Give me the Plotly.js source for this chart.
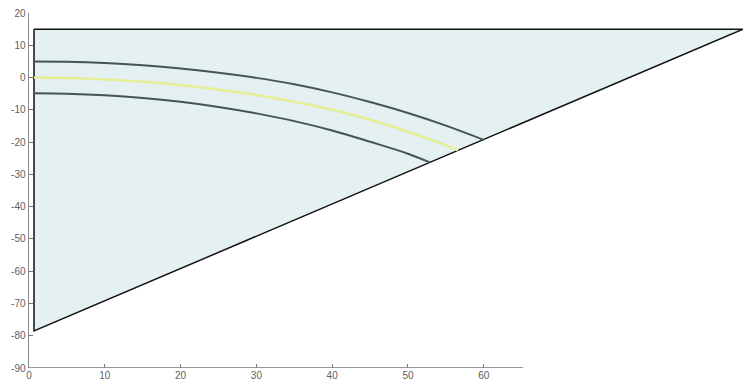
<!DOCTYPE html>
<html>
<head>
<meta charset="utf-8">
<script src="https://cdn.plot.ly/plotly-3.0.1.min.js"></script>
<style>html,body{margin:0;padding:0;background:#fff;}#chart{width:743px;height:385px;}</style>
</head>
<body>
<div id="chart"></div>
<script>
// Region boundary (triangle)
var regionX = [0.66, 94.2, 0.66, 0.66];
var regionY = [15, 15, -78.5, 15];

// Upper dark curve
var upperX = [0.66, 5, 10, 15, 20, 25, 30, 35, 40, 45, 50, 55, 60];
var upperY = [5.0, 4.9, 4.5, 3.8, 2.8, 1.5, -0.1, -2.1, -4.6, -7.6, -11.0, -14.9, -19.3];

// Middle (yellow) curve
var middleX = [0.66, 5, 10, 15, 20, 25, 30, 35, 40, 45, 50, 55, 56.6];
var middleY = [0.0, -0.15, -0.6, -1.3, -2.3, -3.7, -5.4, -7.5, -10.0, -13.1, -16.8, -21.0, -22.6];

// Lower dark curve
var lowerX = [0.66, 5, 10, 15, 20, 25, 30, 35, 40, 45, 50, 52.9];
var lowerY = [-4.9, -5.05, -5.5, -6.3, -7.5, -9.1, -11.1, -13.5, -16.4, -19.9, -23.6, -26.3];

// Axis ticks
var xTicks = [0, 10, 20, 30, 40, 50, 60];
var yTicks = [20, 10, 0, -10, -20, -30, -40, -50, -60, -70, -80, -90];
var xAxisExtent = [0, 65.2];
var xRange = [0, 94.2];
var yRange = [-90, 20];

var font = {family: "Liberation Sans Narrow, Arial Narrow, Liberation Sans, Arial, sans-serif", size: 10, color: "#606060"};

var traces = [
  {x: regionX, y: regionY, mode: "lines", fill: "toself", fillcolor: "#e4f0f1",
   line: {color: "#111111", width: 1.5}, hoverinfo: "skip", showlegend: false},
  {x: upperX, y: upperY, mode: "lines", line: {color: "#455556", width: 2, shape: "spline", smoothing: 1}, showlegend: false},
  {x: middleX, y: middleY, mode: "lines", line: {color: "#e6ee96", width: 2.5, shape: "spline", smoothing: 1}, showlegend: false},
  {x: lowerX, y: lowerY, mode: "lines", line: {color: "#455556", width: 2, shape: "spline", smoothing: 1}, showlegend: false}
];

var layout = {
  width: 743, height: 385,
  margin: {l: 29, r: 0, t: 13, b: 17, pad: 0},
  paper_bgcolor: "#ffffff", plot_bgcolor: "rgba(0,0,0,0)",
  showlegend: false,
  font: font,
  xaxis: {range: xRange, tickvals: xTicks, ticktext: xTicks.map(String), ticks: "inside", ticklen: 4,
          tickcolor: "#777777", showgrid: false, zeroline: false, showline: false, tickfont: font, fixedrange: true},
  yaxis: {range: yRange, tickvals: yTicks, ticktext: yTicks.map(String), ticks: "inside", ticklen: 4,
          tickcolor: "#777777", showgrid: false, zeroline: false, showline: true, linecolor: "#888888", linewidth: 1.5,
          tickfont: font, fixedrange: true},
  shapes: [
    {type: "line", xref: "x", yref: "y", x0: xAxisExtent[0], x1: xAxisExtent[1], y0: yRange[0], y1: yRange[0],
     line: {color: "#777777", width: 1.5}}
  ]
};

Plotly.newPlot("chart", traces, layout, {displayModeBar: false, staticPlot: true});
</script>
</body>
</html>
